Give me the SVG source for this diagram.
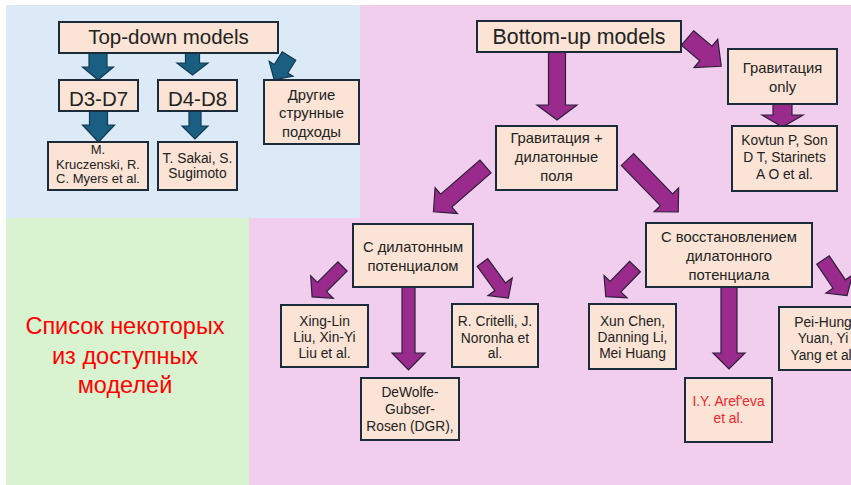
<svg xmlns="http://www.w3.org/2000/svg" width="851" height="485" viewBox="0 0 851 485">
<style>
.box{fill:#fbe4d6;stroke:#1c2b3a;stroke-width:2}
.t{font-family:"Liberation Sans",Arial,sans-serif;fill:#222;text-anchor:middle}
.big{font-size:20.5px}
.mid{font-size:14.8px}
.sm{font-size:13.8px}
.xs{font-size:13px}
.red{fill:#f0262c}
.cap{font-size:23.5px;fill:#ff0000}
.ba{fill:#1a5f82;stroke:#12394f;stroke-width:1.2}
.pa{fill:#9b2a8d;stroke:#2b2038;stroke-width:1.2}
</style>
<rect width="851" height="485" fill="#ffffff"/>
<g id="backgrounds">
<rect x="6" y="5" width="354" height="213" fill="#dce9f6"/>
<rect x="360" y="5" width="491" height="480" fill="#f1cdee"/>
<rect x="249" y="218" width="111" height="267" fill="#f1cdee"/>
<rect x="6" y="218" width="243" height="267" fill="#d9f2d0"/>
</g>
<g id="connectors">
<path class="ba" d="M89,53 H107 V67 H113.5 L98,80 L82.5,67 H89 Z"/>
<path class="ba" d="M185.5,53 H199.5 V63 H208 L192.5,75 L177,63 H185.5 Z"/>
<path class="ba" transform="translate(289,56) rotate(122)" d="M0,-8 H15 V-14 L28,0 L15,14 V8 H0 Z"/>
<path class="ba" d="M89.5,111 H107.5 V125 H114.5 L98.5,142 L82.5,125 H89.5 Z"/>
<path class="ba" d="M189,111 H201 V126 H208 L195,139 L182,126 H189 Z"/>
<path class="pa" d="M548.5,52 H565.5 V105 H577 L557,120 L537,105 H548.5 Z"/>
<path class="pa" transform="translate(687.5,38) rotate(40)" d="M0,-9.5 H24 V-18.5 L44,0 L24,18.5 V9.5 H0 Z"/>
<path class="pa" d="M773,104 H792 V115 H803 L782.5,127 L762,115 H773 Z"/>
<path class="pa" transform="translate(485.5,166.5) rotate(139)" d="M0,-8.5 H52 V-17 L69,0 L52,17 V8.5 H0 Z"/>
<path class="pa" transform="translate(627.5,159.5) rotate(46)" d="M0,-8.5 H56 V-17 L73,0 L56,17 V8.5 H0 Z"/>
<path class="pa" transform="translate(342.5,266.5) rotate(135)" d="M0,-6.5 H29 V-16 L43,0 L29,16 V6.5 H0 Z"/>
<path class="pa" transform="translate(482.5,262.5) rotate(54)" d="M0,-6.5 H30 V-15 L44,0 L30,15 V6.5 H0 Z"/>
<path class="pa" d="M402,287 H415 V353 H425 L408.5,370 L392,353 H402 Z"/>
<path class="pa" transform="translate(635,266.5) rotate(134)" d="M0,-7.5 H28 V-16 L42,0 L28,16 V7.5 H0 Z"/>
<path class="pa" transform="translate(823,260) rotate(56)" d="M0,-7.5 H29 V-16 L43,0 L29,16 V7.5 H0 Z"/>
<path class="pa" d="M721,287 H737 V353 H745 L729,369 L713,353 H721 Z"/>
</g>
<g id="top-down">
<rect class="box" x="59" y="22" width="219" height="31"/>
<text class="t big" x="168.5" y="44">Top-down models</text>
</g>
<g id="d3-d7">
<rect class="box" x="59" y="80" width="79" height="31"/>
<text class="t big" x="98.5" y="106">D3-D7</text>
</g>
<g id="d4-d8">
<rect class="box" x="158" y="80" width="79" height="31"/>
<text class="t big" x="197.5" y="106">D4-D8</text>
</g>
<g id="other-string">
<rect class="box" x="264" y="80" width="95" height="64"/>
<text class="t mid" x="311.5" y="99.5">Другие</text>
<text class="t mid" x="311.5" y="118">струнные</text>
<text class="t mid" x="311.5" y="136.5">подходы</text>
</g>
<g id="kruczenski">
<rect class="box" x="48" y="142" width="100" height="48"/>
<text class="t xs" x="98" y="154">M.</text>
<text class="t xs" x="98" y="168.5">Kruczenski,  R.</text>
<text class="t xs" x="98" y="183">C. Myers et al.</text>
</g>
<g id="sakai">
<rect class="box" x="158" y="142" width="79" height="48"/>
<text class="t sm" x="197.5" y="163">T. Sakai, S.</text>
<text class="t sm" x="197.5" y="178">Sugimoto</text>
</g>
<g id="bottom-up">
<rect class="box" x="477" y="21" width="204" height="31"/>
<text class="t" style="font-size:21.3px" x="579" y="44">Bottom-up models</text>
</g>
<g id="gravity-only">
<rect class="box" x="728" y="49" width="109" height="55"/>
<text class="t mid" x="782.5" y="73">Гравитация</text>
<text class="t mid" x="782.5" y="92">only</text>
</g>
<g id="kovtun">
<rect class="box" x="732" y="126" width="105" height="65"/>
<text class="t sm" x="784.5" y="145">Kovtun P, Son</text>
<text class="t sm" x="784.5" y="162">D T, Starinets</text>
<text class="t sm" x="784.5" y="179">A O et al.</text>
</g>
<g id="gravity-dilaton">
<rect class="box" x="496" y="126" width="121" height="64"/>
<text class="t mid" x="556.5" y="143">Гравитация +</text>
<text class="t mid" x="556.5" y="162">дилатонные</text>
<text class="t mid" x="556.5" y="181">поля</text>
</g>
<g id="dilaton-potential">
<rect class="box" x="353" y="224" width="120" height="63"/>
<text class="t mid" x="413" y="252">С дилатонным</text>
<text class="t mid" x="413" y="271">потенциалом</text>
</g>
<g id="xing-lin">
<rect class="box" x="281" y="305" width="87" height="62"/>
<text class="t sm" x="324.5" y="326">Xing-Lin</text>
<text class="t sm" x="324.5" y="342">Liu, Xin-Yi</text>
<text class="t sm" x="324.5" y="358">Liu et al.</text>
</g>
<g id="critelli">
<rect class="box" x="452" y="304" width="86" height="63"/>
<text class="t sm" x="495" y="326">R. Critelli, J.</text>
<text class="t sm" x="495" y="342.5">Noronha et</text>
<text class="t sm" x="495" y="358">al.</text>
</g>
<g id="dgr">
<rect class="box" x="361" y="378" width="98" height="62"/>
<text class="t sm" x="410" y="397">DeWolfe-</text>
<text class="t sm" x="410" y="414">Gubser-</text>
<text class="t sm" x="410" y="431">Rosen (DGR),</text>
</g>
<g id="restoration">
<rect class="box" x="646" y="223" width="166" height="64"/>
<text class="t mid" x="729" y="242">С восстановлением</text>
<text class="t mid" x="729" y="261">дилатонного</text>
<text class="t mid" x="729" y="280">потенциала</text>
</g>
<g id="xun-chen">
<rect class="box" x="589" y="304" width="87" height="65"/>
<text class="t sm" x="632.5" y="326">Xun Chen,</text>
<text class="t sm" x="632.5" y="342">Danning Li,</text>
<text class="t sm" x="632.5" y="358">Mei Huang</text>
</g>
<g id="arefeva">
<rect class="box" x="685" y="378" width="87" height="64"/>
<text class="t sm red" x="728.5" y="406">I.Y. Aref'eva</text>
<text class="t sm red" x="728.5" y="423">et al.</text>
</g>
<g id="pei-hung">
<rect class="box" x="779" y="307" width="90" height="63"/>
<text class="t sm" x="823" y="327">Pei-Hung</text>
<text class="t sm" x="823" y="343">Yuan, Yi</text>
<text class="t sm" x="823" y="360">Yang  et al.</text>
</g>
<g id="caption">
<text class="t cap" x="125" y="334">Список некоторых</text>
<text class="t cap" x="125" y="363.5">из доступных</text>
<text class="t cap" x="125" y="393">моделей</text>
</g>
</svg>
